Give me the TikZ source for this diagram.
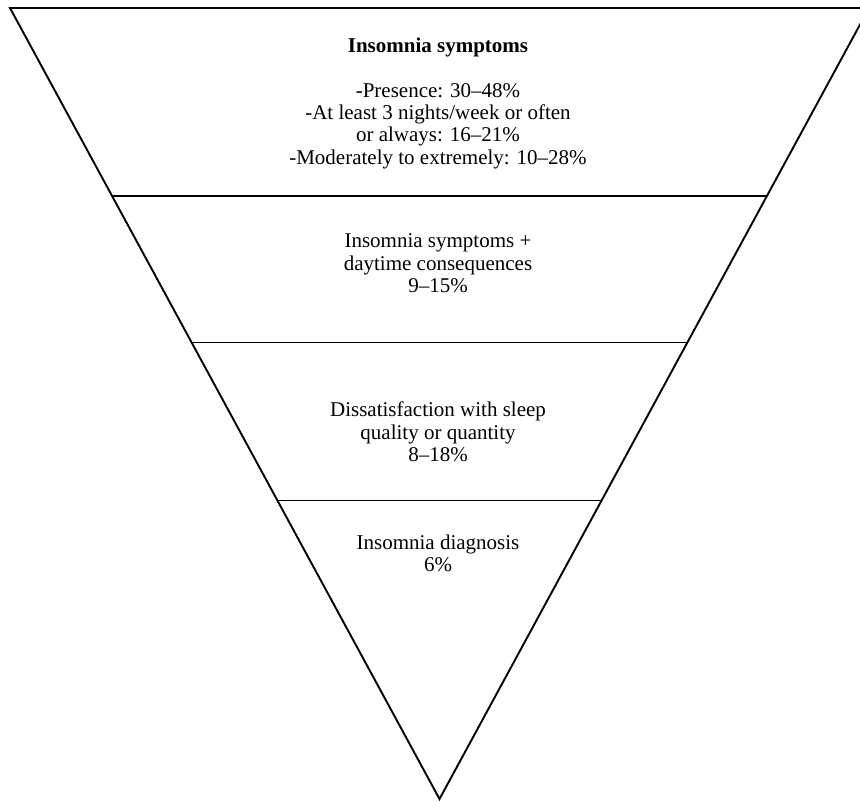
\documentclass[tikz,border=0pt]{standalone}
\usepackage{fontspec}
\setmainfont{Liberation Serif}
\begin{document}
\begin{tikzpicture}[x=1pt,y=1pt,
  edge/.style={line width=1.9pt, line join=miter},
  sep/.style={line width=1.1pt},
  txt/.style={anchor=base, inner sep=0pt, font=\fontsize{21}{23}\selectfont},
  btxt/.style={txt, font=\fontsize{21}{23}\selectfont\bfseries}]
\useasboundingbox (0,0) rectangle (860,802);
\coordinate (L) at (10,794);
\coordinate (R) at (869,794);
\coordinate (A) at (439.5,3);
\draw[edge] (R) -- (L) -- (A) -- cycle;
% separators
\coordinate (s1l) at (112.1,606);
\coordinate (s1r) at (766.9,606);
\coordinate (s2l) at (191.7,459.3);
\coordinate (s2r) at (687.3,459.3);
\coordinate (s3l) at (277.5,301.3);
\coordinate (s3r) at (601.5,301.3);
\draw[sep] (s1l) -- (s1r);
\draw[sep] (s2l) -- (s2r);
\draw[sep] (s3l) -- (s3r);
% texts
\node[btxt] (t1) at (438,749) {Insomnia symptoms};
\node[txt] (t2) at (438,704) {-Presence: 30–48\%};
\node[txt] (t3) at (438,682) {-At least 3 nights/week or often};
\node[txt] (t4) at (438,660) {or always: 16–21\%};
\node[txt] (t5) at (438,637) {-Moderately to extremely: 10–28\%};
\node[txt] (u1) at (438,554) {Insomnia symptoms +};
\node[txt] (u2) at (438,531) {daytime consequences};
\node[txt] (u3) at (438,509) {9–15\%};
\node[txt] (v1) at (438,385) {Dissatisfaction with sleep};
\node[txt] (v2) at (438,362) {quality or quantity};
\node[txt] (v3) at (438,340) {8–18\%};
\node[txt] (w1) at (438,252) {Insomnia diagnosis};
\node[txt] (w2) at (438,230) {6\%};
\end{tikzpicture}
\end{document}
